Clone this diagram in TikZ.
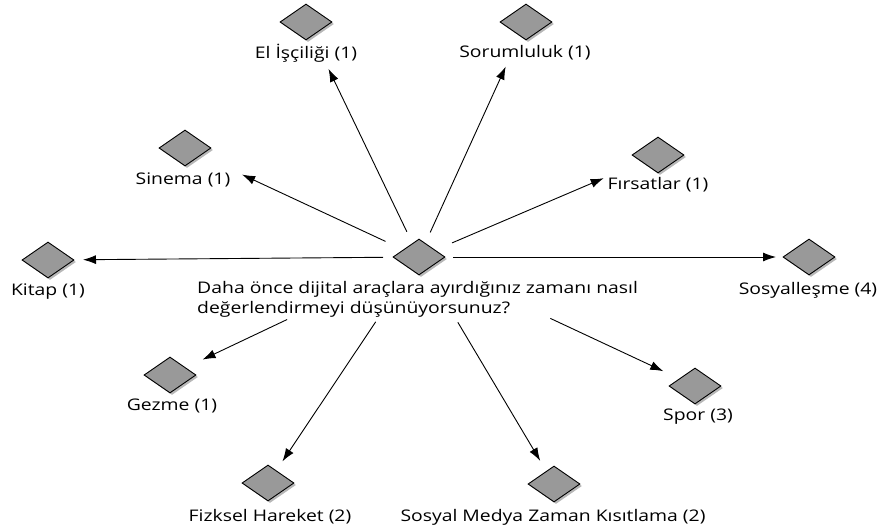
\documentclass[tikz,border=0pt]{standalone}
\usepackage{fontspec}
\setmainfont{Open Sans}
\usetikzlibrary{shapes.geometric,shadows,arrows.meta,calc}
\begin{document}
\begin{tikzpicture}[x=1pt,y=-1pt,
  dia/.style={diamond,draw=black,line width=0.9pt,fill=black!40,minimum width=52pt,minimum height=36pt,inner sep=0pt,
    drop shadow={shadow xshift=2pt,shadow yshift=-2pt,fill=black!40,opacity=0.7}},
  lbl/.style={inner sep=0pt,font=\fontsize{16pt}{20pt}\selectfont,xscale=1.21,transform shape},
  arr/.style={line width=0.9pt,-{Latex[length=13pt,width=9pt]}}]
\useasboundingbox (0,0) rectangle (877,531);
\node[dia] (C) at (419,257) {};
\node[lbl,anchor=west,align=left] (Ct) at (197,299) {Daha önce dijital araçlara ayırdığınız zamanı nasıl\\değerlendirmeyi düşünüyorsunuz?};
\node[dia] (El) at (306,22) {};
\node[lbl] (ElL) at (306,53) {El İşçiliği (1)};
\node[dia] (So) at (526,22) {};
\node[lbl] (SoL) at (525,53) {Sorumluluk (1)};
\node[dia] (Si) at (185,148) {};
\node[lbl] (SiL) at (183,180) {Sinema (1)};
\node[dia] (Fi) at (658,155) {};
\node[lbl] (FiL) at (658,185) {Fırsatlar (1)};
\node[dia] (Ki) at (48,260) {};
\node[lbl] (KiL) at (48,292) {Kitap (1)};
\node[dia] (Sy) at (809,257) {};
\node[lbl] (SyL) at (808,290) {Sosyalleşme (4)};
\node[dia] (Ge) at (170,375) {};
\node[lbl] (GeL) at (172,406) {Gezme (1)};
\node[dia] (Sp) at (695,386) {};
\node[lbl] (SpL) at (698,417) {Spor (3)};
\node[dia] (Fz) at (268,483) {};
\node[lbl] (FzL) at (270,517) {Fizksel Hareket (2)};
\node[dia] (Sm) at (554,484) {};
\node[lbl] (SmL) at (553,517) {Sosyal Medya Zaman Kısıtlama (2)};
\draw[arr] ($(C)!28pt!(El)$) -- ($(El)!52pt!(C)$);
\draw[arr] ($(C)!27pt!(So)$) -- ($(So)!49pt!(C)$);
\draw[arr] ($(C)!37pt!(Si)$) -- ($(Si)!63pt!(C)$);
\draw[arr] ($(C)!36pt!(Fi)$) -- ($(Fi)!59pt!(C)$);
\draw[arr] ($(C)!36pt!(Ki)$) -- ($(Ki)!35pt!(C)$);
\draw[arr] ($(C)!34pt!(Sy)$) -- ($(Sy)!33pt!(C)$);
\draw[arr] ($(C)!146pt!(Ge)$) -- ($(Ge)!36pt!(C)$);
\draw[arr] ($(C)!145pt!(Sp)$) -- ($(Sp)!35pt!(C)$);
\draw[arr] ($(C)!78pt!(Fz)$) -- ($(Fz)!26pt!(C)$);
\draw[arr] ($(C)!76pt!(Sm)$) -- ($(Sm)!27pt!(C)$);
\end{tikzpicture}
\end{document}
